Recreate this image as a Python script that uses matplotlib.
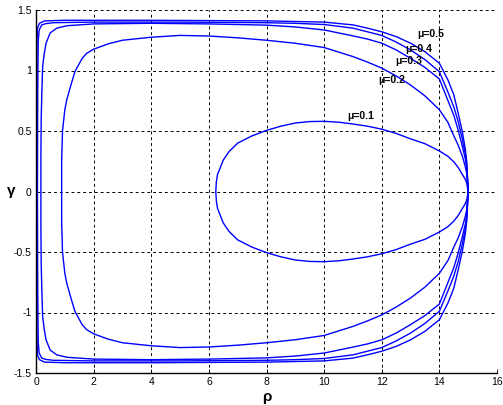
import matplotlib
matplotlib.use("Agg")
import matplotlib.pyplot as plt
import numpy as np

plt.rcParams['font.family'] = ['Liberation Sans', 'DejaVu Sans']

# upper-half points (rho, gamma), ordered from the right tip (15, 0) to the left side
mu_labels = ["\u03bc=0.1", "\u03bc=0.2", "\u03bc=0.3", "\u03bc=0.4", "\u03bc=0.5"]

rho_01 = [15.0, 14.95, 14.9, 14.8, 14.65, 14.5, 14.3, 14.0, 13.5, 13.0, 12.5, 12.0, 11.5, 11.0, 10.5, 10.0,
          9.5, 9.0, 8.5, 8.0, 7.5, 7.0, 6.7, 6.5, 6.4, 6.3, 6.26, 6.24]
gam_01 = [0.0, 0.07, 0.10, 0.14, 0.20, 0.245, 0.29, 0.335, 0.395, 0.435, 0.48, 0.515, 0.54, 0.558, 0.573, 0.58,
          0.578, 0.566, 0.54, 0.505, 0.46, 0.40, 0.33, 0.26, 0.20, 0.14, 0.08, 0.0]

rho_02 = [15.0, 14.95, 14.9, 14.8, 14.65, 14.5, 14.3, 14.0, 13.5, 13.0, 12.5, 12.0, 11.5, 11.0, 10.0, 9.0,
          8.0, 7.0, 6.0, 5.0, 4.0, 3.0, 2.5, 2.0, 1.75, 1.6, 1.35, 1.2, 1.07, 1.0, 0.92, 0.89, 0.89]
gam_02 = [0.0, 0.15, 0.205, 0.29, 0.385, 0.46, 0.57, 0.676, 0.79, 0.88, 0.955, 1.02, 1.07, 1.115, 1.19, 1.225,
          1.25, 1.27, 1.285, 1.29, 1.275, 1.25, 1.22, 1.176, 1.14, 1.10, 0.99, 0.87, 0.76, 0.676, 0.5, 0.25, 0.0]

rho_03 = [15.0, 14.95, 14.9, 14.8, 14.65, 14.5, 14.3, 14.0, 13.5, 13.0, 12.5, 12.0, 11.5, 11.0, 10.0, 9.0,
          8.0, 6.0, 4.0, 2.0, 1.07, 0.72, 0.49, 0.35, 0.28, 0.23, 0.2, 0.18, 0.17, 0.17]
gam_03 = [0.0, 0.19, 0.27, 0.37, 0.51, 0.63, 0.75, 0.93, 1.025, 1.10, 1.17, 1.226, 1.26, 1.286, 1.335, 1.36,
          1.375, 1.385, 1.39, 1.385, 1.37, 1.35, 1.31, 1.226, 1.13, 1.03, 0.8, 0.59, 0.3, 0.0]

rho_04 = [15.0, 14.95, 14.9, 14.8, 14.65, 14.5, 14.3, 14.0, 13.5, 13.0, 12.5, 12.0, 11.5, 11.0, 10.0, 9.0,
          8.0, 5.0, 2.0, 0.6, 0.35, 0.2, 0.11, 0.08, 0.07, 0.06, 0.05]
gam_04 = [0.0, 0.22, 0.31, 0.43, 0.58, 0.70, 0.82, 0.99, 1.09, 1.17, 1.235, 1.29, 1.32, 1.35, 1.38, 1.39,
          1.395, 1.40, 1.40, 1.395, 1.388, 1.377, 1.335, 1.25, 1.1, 0.8, 0.0]

rho_05 = [15.0, 14.95, 14.9, 14.8, 14.65, 14.5, 14.3, 14.0, 13.5, 13.0, 12.5, 12.0, 11.5, 11.0, 10.0, 9.0,
          8.0, 4.0, 1.0, 0.3, 0.12, 0.05, 0.03, 0.03]
gam_05 = [0.0, 0.245, 0.35, 0.49, 0.65, 0.80, 0.92, 1.06, 1.155, 1.226, 1.28, 1.32, 1.35, 1.377, 1.40, 1.405,
          1.41, 1.415, 1.415, 1.41, 1.39, 1.35, 1.2, 0.0]

label_rho = [11.28, 12.33, 12.93, 13.27, 13.7]
label_gam = [0.627, 0.92, 1.076, 1.175, 1.30]

x_ticks = [0, 2, 4, 6, 8, 10, 12, 14, 16]
y_ticks = [-1.5, -1, -0.5, 0, 0.5, 1, 1.5]
y_ticklabels = ["-1.5", "-1", "-0.5", "0", "0.5", "1", "1.5"]

curves = [(rho_01, gam_01), (rho_02, gam_02), (rho_03, gam_03), (rho_04, gam_04), (rho_05, gam_05)]

fig = plt.figure(figsize=(5.03, 4.05), dpi=100)
ax = fig.add_axes([36/503, 1-373/405, (497-36)/503, (373-10)/405])

for rho, gam in curves:
    r = np.array(rho)
    g = np.array(gam)
    full_r = np.concatenate([r, r[::-1][1:]])
    full_g = np.concatenate([g, -g[::-1][1:]])
    ax.plot(full_r, full_g, color=(0, 0, 1), linewidth=1.0)

for lab, lr, lg in zip(mu_labels, label_rho, label_gam):
    ax.text(lr, lg, lab, fontsize=7.5, fontweight='bold', ha='center', va='center')

ax.set_xlim(0, 16)
ax.set_ylim(-1.5, 1.5)
ax.set_xticks(x_ticks)
ax.set_yticks(y_ticks)
ax.set_yticklabels(y_ticklabels)
ax.tick_params(direction='in', length=3, labelsize=7.5, width=0.6, pad=3)
ax.grid(True, color='black', linestyle=(0, (3, 3)), linewidth=0.7)
ax.spines['top'].set_visible(False)
ax.spines['right'].set_visible(False)
for s in ['left', 'bottom']:
    ax.spines[s].set_linewidth(1.0)

ax.set_xlabel("\u03c1", fontsize=11, fontweight='bold', labelpad=2)
ax.set_ylabel("\u03b3", fontsize=11, fontweight='bold', rotation=0, labelpad=2, va='center')

fig.savefig("out.png", dpi=100)
